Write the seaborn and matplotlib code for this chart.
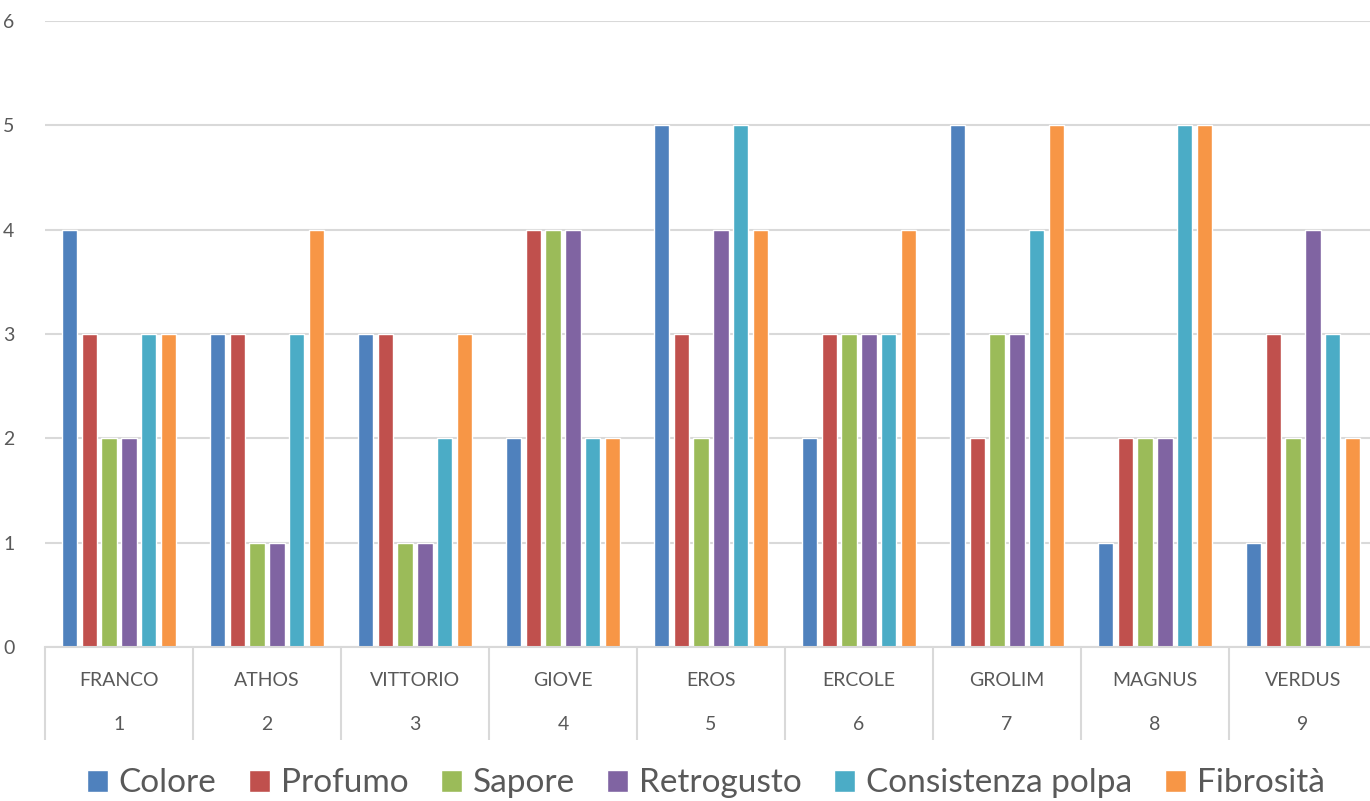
import pandas as pd
import matplotlib
matplotlib.use("Agg")
import matplotlib.pyplot as plt
import seaborn as sns

# data
nomi = ["FRANCO", "ATHOS", "VITTORIO", "GIOVE", "EROS", "ERCOLE", "GROLIM", "MAGNUS", "VERDUS"]
numeri = ["1", "2", "3", "4", "5", "6", "7", "8", "9"]
attributi = ["Colore", "Profumo", "Sapore", "Retrogusto", "Consistenza polpa", "Fibrosità"]
colore = [4, 3, 3, 2, 5, 2, 5, 1, 1]
profumo = [3, 3, 3, 4, 3, 3, 2, 2, 3]
sapore = [2, 1, 1, 4, 2, 3, 3, 2, 2]
retrogusto = [2, 1, 1, 4, 4, 3, 3, 2, 4]
consistenza = [3, 3, 2, 2, 5, 3, 4, 5, 3]
fibrosita = [3, 4, 3, 2, 4, 4, 5, 5, 2]
colori = ["#4F81BD", "#C0504D", "#9BBB59", "#8064A2", "#4BACC6", "#F79646"]

wide = pd.DataFrame({"nome": nomi, "Colore": colore, "Profumo": profumo, "Sapore": sapore,
                     "Retrogusto": retrogusto, "Consistenza polpa": consistenza,
                     "Fibrosità": fibrosita})
df = wide.melt(id_vars="nome", var_name="attributo", value_name="valore")

sns.set_style("white")
plt.rcParams['font.family'] = ['Lato', 'DejaVu Sans']
grigio = "#D9D9D9"
testo = "#595959"

fig = plt.figure(figsize=(13.7, 8.01), dpi=100)
ax = fig.add_axes([45/1370, 1 - 647/801, 1332/1370, 626/801])

sns.barplot(data=df, x="nome", y="valore", hue="attributo", hue_order=attributi,
            palette=colori, saturation=1, width=0.8, gap=0.22, errorbar=None, ax=ax)

ax.set_ylim(0, 6)
ax.set_xlim(-0.5, len(nomi) - 0.5)
ax.set_yticks(range(0, 7))
ax.yaxis.grid(True, color=grigio, linewidth=1.5)
ax.set_axisbelow(True)
for s in ["top", "right", "left"]:
    ax.spines[s].set_visible(False)
ax.spines["bottom"].set_color(grigio)
ax.spines["bottom"].set_linewidth(1.5)
ax.set_xlabel("")
ax.set_ylabel("")
ax.tick_params(axis="y", length=0, pad=22, labelsize=14, labelcolor=testo)
ax.tick_params(axis="x", which="major", length=0, pad=18, labelsize=14, labelcolor=testo)

# group dividers as long minor ticks
ax.set_xticks([i - 0.5 for i in range(len(nomi) + 1)], minor=True)
ax.tick_params(axis="x", which="minor", bottom=True, length=67, width=1.5,
               color=grigio, direction="out")

# second level of category labels
for i, n in enumerate(numeri):
    ax.text(i, -0.1246, n, transform=ax.get_xaxis_transform(), ha="center", va="center",
            fontsize=14, color=testo)

ax.legend(loc="center", bbox_to_anchor=(0.515, 0.022), bbox_transform=fig.transFigure,
          ncol=6, frameon=False, fontsize=24, labelcolor=testo, handlelength=0.63,
          handleheight=0.63, handletextpad=0.33, columnspacing=0.97)

fig.savefig("out.png", dpi=100)
